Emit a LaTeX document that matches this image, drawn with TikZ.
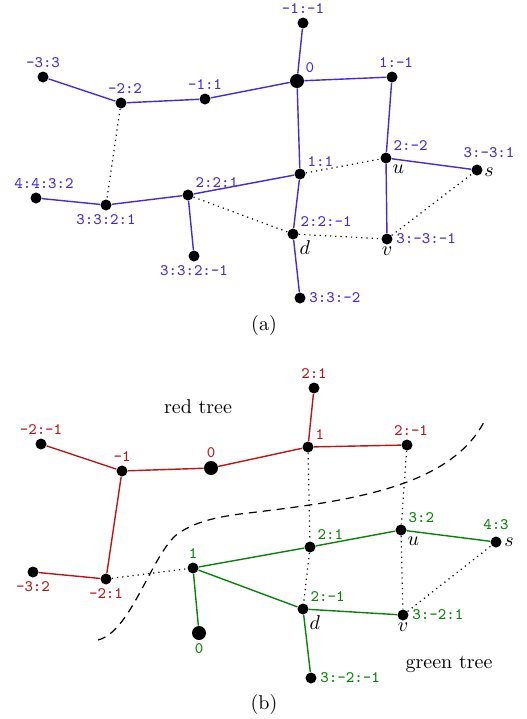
\documentclass[tikz,border=0pt]{standalone}
\usepackage{amsmath}
\usepackage{xcolor}
\usepackage{tikz}
\usetikzlibrary{positioning}

\definecolor{bluetree}{RGB}{75,40,215}
\definecolor{redtree}{RGB}{190,20,20}
\definecolor{greentree}{RGB}{10,130,10}

\tikzset{
  dot/.style={circle,fill=black,inner sep=0pt,minimum size=5.5pt},
  bigdot/.style={dot,minimum size=7pt},
  blab/.style={text=bluetree,font=\ttfamily\footnotesize,inner sep=1.5pt},
  rlab/.style={text=redtree,font=\ttfamily\footnotesize,inner sep=1.5pt},
  glab/.style={text=greentree,font=\ttfamily\footnotesize,inner sep=1.5pt},
  mlab/.style={inner sep=1pt},
  bedge/.style={bluetree,line width=0.7pt},
  redge/.style={redtree,line width=0.7pt},
  gedge/.style={greentree,line width=0.7pt},
  link/.style={dotted,line width=0.6pt}
}

\begin{document}
\begin{tikzpicture}[x=0.5pt,y=-0.5pt]
  \useasboundingbox (0,0) rectangle (526,719);

  % (a) nodes
  \node[dot,label={[blab]above:{-1:-1}}] (am1m1) at (303,23) {};
  \node[bigdot,label={[blab]above right:{0}}] (a0) at (297,81) {};
  \node[dot,label={[blab,xshift=2pt]above:{1:-1}}] (a1m1) at (392,77) {};
  \node[dot,label={[blab]above right:{1:1}}] (a11) at (300,174) {};
  \node[dot,label={[blab]above right:{2:-2}},label={[mlab]below right:$u$}] (au) at (386,158) {};
  \node[dot,label={[blab,xshift=6pt,yshift=1.5pt]above:{3:-3:1}},label={[mlab,inner sep=0.5pt,yshift=-1pt]right:$s$}] (as) at (477,170) {};
  \node[dot,label={[blab]above right:{2:2:-1}},label={[mlab]below right:$d$}] (ad) at (293,234) {};
  \node[dot,label={[blab]right:{3:-3:-1}},label={[mlab]below:$v$}] (av) at (387,239) {};
  \node[dot,label={[blab]right:{3:3:-2}}] (a33m2) at (300,298) {};
  \node[dot,label={[blab]above:{-3:3}}] (am33) at (43,77) {};
  \node[dot,label={[blab,xshift=2pt]above:{-2:2}}] (am22) at (121,103) {};
  \node[dot,label={[blab]above:{-1:1}}] (am11) at (205,99) {};
  \node[dot,label={[blab,xshift=4pt]above:{4:4:3:2}}] (a4432) at (36,198) {};
  \node[dot,label={[blab]below:{3:3:2:1}}] (a3321) at (106,205) {};
  \node[dot,label={[blab]above right:{2:2:1}}] (a221) at (188,195) {};
  \node[dot,label={[blab]below:{3:3:2:-1}}] (a332m1) at (194,256) {};

  % (a) tree edges
  \draw[bedge] (am1m1) -- (a0);
  \draw[bedge] (a0) -- (a1m1);
  \draw[bedge] (a0) -- (am11);
  \draw[bedge] (am11) -- (am22);
  \draw[bedge] (am22) -- (am33);
  \draw[bedge] (a0) -- (a11);
  \draw[bedge] (a1m1) -- (au);
  \draw[bedge] (au) -- (as);
  \draw[bedge] (au) -- (av);
  \draw[bedge] (a11) -- (a221);
  \draw[bedge] (a11) -- (ad);
  \draw[bedge] (ad) -- (a33m2);
  \draw[bedge] (a221) -- (a3321);
  \draw[bedge] (a3321) -- (a4432);
  \draw[bedge] (a221) -- (a332m1);

  % (a) non-tree edges
  \draw[link] (am22) -- (a3321);
  \draw[link] (a11) -- (au);
  \draw[link] (a221) -- (ad);
  \draw[link] (ad) -- (av);
  \draw[link] (av) -- (as);

  \node (capa) at (264,325) {(a)};

  % (b) red tree
  \node[dot,label={[rlab]above:{2:1}}] (r21) at (314,388) {};
  \node[dot,label={[rlab]above right:{1}}] (r1) at (308,447) {};
  \node[dot,label={[rlab,xshift=2pt]above:{2:-1}}] (r2m1) at (407,445) {};
  \node[dot,label={[rlab]above:{-2:-1}}] (rm2m1) at (41,444) {};
  \node[dot,label={[rlab]above:{-1}}] (rm1) at (122,471) {};
  \node[bigdot,label={[rlab]above:{0}}] (r0) at (211,468) {};
  \node[dot,label={[rlab]below:{-3:2}}] (rm32) at (33,572) {};
  \node[dot,label={[rlab]below:{-2:1}}] (rm21) at (106,579) {};

  % (b) green tree
  \node[dot,label={[glab]above:{1}}] (g1) at (193,568) {};
  \node[bigdot,label={[glab]below:{0}}] (g0) at (199,633) {};
  \node[dot,label={[glab]above right:{2:1}}] (g21) at (310,547) {};
  \node[dot,label={[glab]above right:{3:2}},label={[mlab]below right:$u$}] (gu) at (401,530) {};
  \node[dot,label={[glab,yshift=1.5pt]above:{4:3}},label={[mlab]right:$s$}] (gs) at (496,542) {};
  \node[dot,label={[glab]above right:{2:-1}},label={[mlab]below right:$d$}] (gd) at (303,609) {};
  \node[dot,label={[glab]right:{3:-2:1}},label={[mlab]below:$v$}] (gv) at (403,615) {};
  \node[dot,label={[glab]right:{3:-2:-1}}] (g32m1) at (311,678) {};

  \draw[redge] (r21) -- (r1);
  \draw[redge] (r1) -- (r2m1);
  \draw[redge] (r1) -- (r0);
  \draw[redge] (r0) -- (rm1);
  \draw[redge] (rm1) -- (rm2m1);
  \draw[redge] (rm1) -- (rm21);
  \draw[redge] (rm21) -- (rm32);

  \draw[gedge] (g1) -- (g0);
  \draw[gedge] (g1) -- (g21);
  \draw[gedge] (g1) -- (gd);
  \draw[gedge] (g21) -- (gu);
  \draw[gedge] (gu) -- (gs);
  \draw[gedge] (gd) -- (gv);
  \draw[gedge] (gd) -- (g32m1);

  % (b) links between the trees
  \draw[link] (rm21) -- (g1);
  \draw[link] (r1) -- (g21);
  \draw[link] (r2m1) -- (gu);
  \draw[link] (g21) -- (gd);
  \draw[link] (gu) -- (gv);
  \draw[link] (gv) -- (gs);

  % cut between the trees
  \draw[dash pattern=on 4pt off 3pt,line width=0.6pt] (98,640) .. controls (130,632) and (150,560) .. (175,536)
    .. controls (190,524) and (210,518) .. (240,514)
    .. controls (340,502) and (450,490) .. (485,420);

  \node (redtxt) at (198,407) {red tree};
  \node (greentxt) at (449,664) {green tree};
  \node (capb) at (264,704) {(b)};
\end{tikzpicture}
\end{document}
